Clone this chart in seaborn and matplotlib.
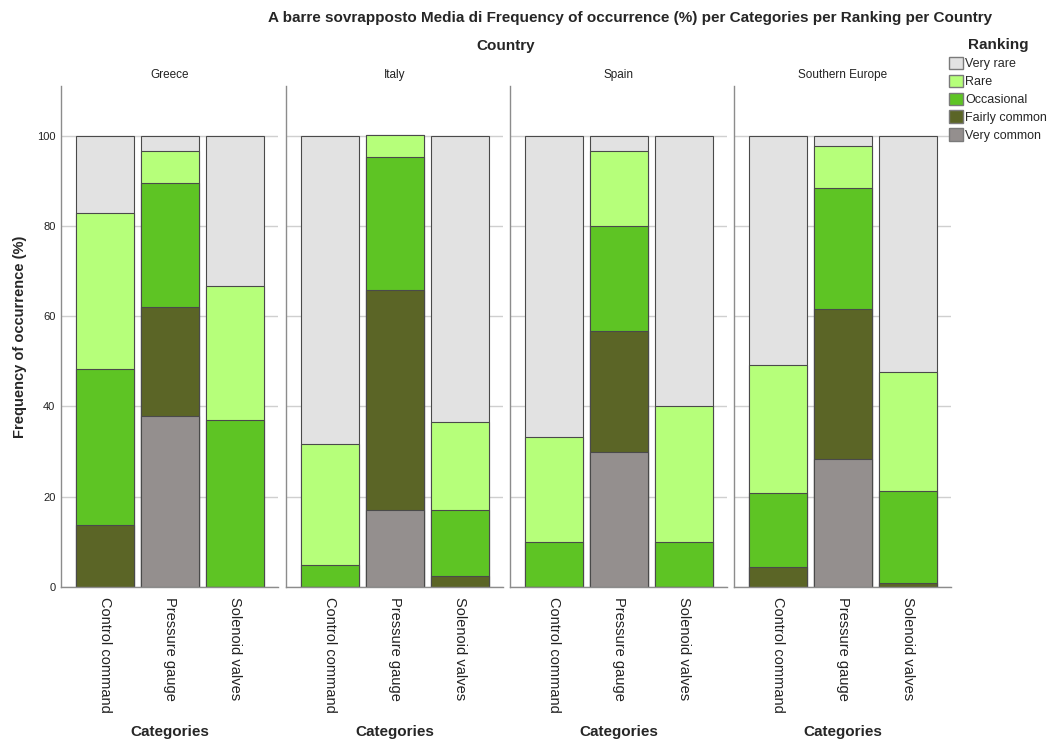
import matplotlib
matplotlib.use("Agg")
import matplotlib.pyplot as plt
from matplotlib.patches import Patch
import pandas as pd
import seaborn as sns

COUNTRIES  = ["Greece", "Italy", "Spain", "Southern Europe"]
CATEGORIES = ["Control command", "Pressure gauge", "Solenoid valves"]
RANKINGS   = ["Very common", "Fairly common", "Occasional", "Rare", "Very rare"]  # bottom -> top

# mean frequency (%) per ranking; rows = countries, cols = categories
VERY_COMMON   = [[0.0, 37.9, 0.0], [0.0, 17.1, 0.0], [0.0, 30.0, 0.0], [0.0, 28.3, 0.0]]
FAIRLY_COMMON = [[13.8, 24.1, 0.0], [0.0, 48.8, 2.4], [0.0, 26.7, 0.0], [4.5, 33.3, 0.9]]
OCCASIONAL    = [[34.5, 27.6, 37.0], [4.9, 29.3, 14.6], [10.0, 23.3, 10.0], [16.4, 26.8, 20.4]]
RARE          = [[34.5, 6.9, 29.6], [26.8, 4.9, 19.5], [23.3, 16.7, 30.0], [28.3, 9.4, 26.4]]
VERY_RARE     = [[17.2, 3.4, 33.3], [68.3, 0.0, 63.4], [66.7, 3.3, 60.0], [50.8, 2.2, 52.3]]

COLORS = {
    "Very rare"    : "#E2E2E2",
    "Rare"         : "#B6FF7A",
    "Occasional"   : "#5EC424",
    "Fairly common": "#5B6526",
    "Very common"  : "#948F8E",
}
EDGE = "#4A4A4A"

sns.set_theme(style="white")
plt.rcParams["font.family"] = ["Liberation Sans", "DejaVu Sans"]

series = dict(zip(RANKINGS, [VERY_COMMON, FAIRLY_COMMON, OCCASIONAL, RARE, VERY_RARE]))
rows = []
for ci, country in enumerate(COUNTRIES):
    for ki, cat in enumerate(CATEGORIES):
        for rk in RANKINGS:
            rows.append({"Country": country, "Categories": cat, "Ranking": rk,
                         "value": series[rk][ci][ki]})
df = pd.DataFrame(rows)
df["cum"] = df.groupby(["Country", "Categories"])["value"].cumsum()

fig = plt.figure(figsize=(10.51, 7.43), dpi=100)
W, H = 1051, 743
ax_left = [61, 286, 510, 734]
ax_w, top_px, bot_px = 217, 86, 587
ax_h = bot_px - top_px

axes = []
for i, country in enumerate(COUNTRIES):
    ax = fig.add_axes([ax_left[i] / W, 1 - bot_px / H, ax_w / W, ax_h / H])
    axes.append(ax)
    sub = df[df["Country"] == country]
    # draw cumulative bars from top of stack down so lower layers overlay
    for rk in reversed(RANKINGS):
        sns.barplot(data=sub[sub["Ranking"] == rk], x="Categories", y="cum",
                    order=CATEGORIES, color=COLORS[rk], saturation=1, width=0.89,
                    edgecolor=EDGE, linewidth=0.8, errorbar=None, ax=ax)
    ax.set_xlim(-0.677, 2.66)
    ax.set_ylim(0, 111)
    ax.set_yticks([0, 20, 40, 60, 80, 100])
    ax.yaxis.grid(True, color="#CFCFCF", lw=1)
    ax.set_axisbelow(True)
    for s in ["top", "right"]:
        ax.spines[s].set_visible(False)
    for s in ["left", "bottom"]:
        ax.spines[s].set_color("#8C8C8C")
        ax.spines[s].set_linewidth(1)
    ax.tick_params(axis="both", length=0)
    ax.tick_params(axis="x", labelsize=10.5, labelcolor="#222222", pad=7)
    for lbl in ax.get_xticklabels():
        lbl.set_rotation(270)
        lbl.set_va("top")
        lbl.set_ha("center")
    ax.set_xlabel("Categories", fontsize=11, fontweight="bold")
    ax.xaxis.set_label_coords(0.5, (bot_px - 732) / ax_h)
    ax.xaxis.label.set_va("center")
    ax.set_title(country, fontsize=8.5, pad=6, color="#222222")
    if i == 0:
        ax.set_ylabel("Frequency of occurrence (%)", fontsize=10.5, fontweight="bold", labelpad=7)
        ax.tick_params(axis="y", labelsize=8, labelcolor="#222222", pad=4)
    else:
        ax.set_ylabel("")
        ax.set_yticklabels([])

fig.text(630 / W, 1 - 18 / H,
         "A barre sovrapposto Media di Frequency of occurrence (%) per Categories per Ranking per Country",
         ha="center", va="center", fontsize=11, fontweight="bold")
fig.text(506 / W, 1 - 46 / H, "Country", ha="center", va="center", fontsize=11, fontweight="bold")

handles = [Patch(facecolor=COLORS[rk], edgecolor="#7A7A7A", label=rk) for rk in reversed(RANKINGS)]
leg = fig.legend(handles=handles, title="Ranking", loc="upper left",
                 bbox_to_anchor=(946 / W, 1 - 36 / H), frameon=False,
                 fontsize=9, title_fontproperties={"weight": "bold", "size": 11},
                 handlelength=1.15, handleheight=1.15, handletextpad=0.2,
                 labelspacing=0.35, borderaxespad=0, borderpad=0.2)

fig.savefig("out.png", dpi=100)
